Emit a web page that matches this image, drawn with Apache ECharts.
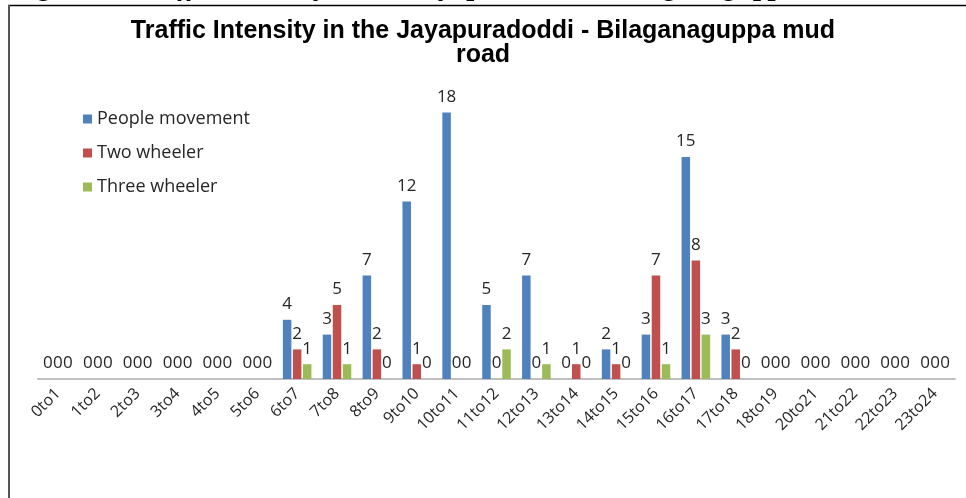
<!DOCTYPE html>
<html>
<head>
<meta charset="utf-8">
<script src="https://cdn.jsdelivr.net/npm/echarts@6/dist/echarts.min.js"></script>
<style>html,body{margin:0;padding:0;background:#fff;}#c{width:966px;height:498px;}</style>
</head>
<body>
<div id="c"></div>
<script>
var categories = ['0to1','1to2','2to3','3to4','4to5','5to6','6to7','7to8','8to9','9to10','10to11','11to12','12to13','13to14','14to15','15to16','16to17','17to18','18to19','20to21','21to22','22to23','23to24'];
var peopleMovement = [0,0,0,0,0,0,4,3,7,12,18,5,7,0,2,3,15,3,0,0,0,0,0];
var twoWheeler     = [0,0,0,0,0,0,2,5,2,1,0,0,0,1,1,7,8,2,0,0,0,0,0];
var threeWheeler   = [0,0,0,0,0,0,1,1,0,0,0,2,1,0,0,1,3,0,0,0,0,0,0];
var seriesNames = ['People movement','Two wheeler','Three wheeler'];
var titleText = 'Traffic Intensity in the Jayapuradoddi - Bilaganaguppa mud\nroad';
var captionLead = 'Figure 3.4:';
var captionText = 'Traffic Intensity in the Jayapuradoddi - Bilaganaguppa mud road';

var colors = ['#4F81BD','#C0504D','#9BBB59'];
var labelStyle = {show:true, position:'top', distance:7, color:'#262626', fontSize:17, fontFamily:'Open Sans'};
function mk(name, data, color){
  return {name:name, type:'bar', data:data, barWidth:8.5, barGap:'18%',
    itemStyle:{color:color}, label:labelStyle, animation:false};
}
var capFont = 'italic bold 29px "Liberation Serif"';
var chart = echarts.init(document.getElementById('c'), null, {renderer:'canvas'});
chart.setOption({
  animation:false,
  title:{text:titleText, left:'center', top:14,
    textStyle:{fontFamily:'Liberation Sans', fontWeight:'bold', fontSize:25, color:'#000', lineHeight:24}},
  legend:{orient:'vertical', left:78, top:105, itemWidth:9, itemHeight:9, itemGap:16,
    icon:'rect', textStyle:{fontFamily:'Open Sans', fontSize:18, color:'#262626'},
    data:seriesNames},
  grid:{left:38, right:11, top:83, bottom:119, containLabel:false},
  xAxis:{type:'category', data:categories,
    axisLine:{lineStyle:{color:'#BFBFBF', width:2}},
    axisTick:{show:false},
    axisLabel:{rotate:45, interval:0, margin:12, fontFamily:'Open Sans', fontSize:16, color:'#262626'}},
  yAxis:{type:'value', min:0, max:20, show:false, splitLine:{show:false}},
  graphic:[
    {type:'text', x:12, y:2, style:{text:captionLead, font:capFont, fill:'#000', verticalAlign:'bottom'}},
    {type:'text', x:135, y:2, style:{text:captionText, font:capFont, fill:'#000', verticalAlign:'bottom'}},
    {type:'rect', shape:{x:0, y:5, width:966, height:3}, style:{fill:'#fff'}},
    {type:'line', shape:{x1:8, y1:5.5, x2:966, y2:5.5}, style:{stroke:'#000', lineWidth:1.5}},
    {type:'line', shape:{x1:9, y1:5, x2:9, y2:498}, style:{stroke:'#555', lineWidth:2}}
  ],
  series:[mk(seriesNames[0], peopleMovement, colors[0]), mk(seriesNames[1], twoWheeler, colors[1]), mk(seriesNames[2], threeWheeler, colors[2])]
});
</script>
</body>
</html>
